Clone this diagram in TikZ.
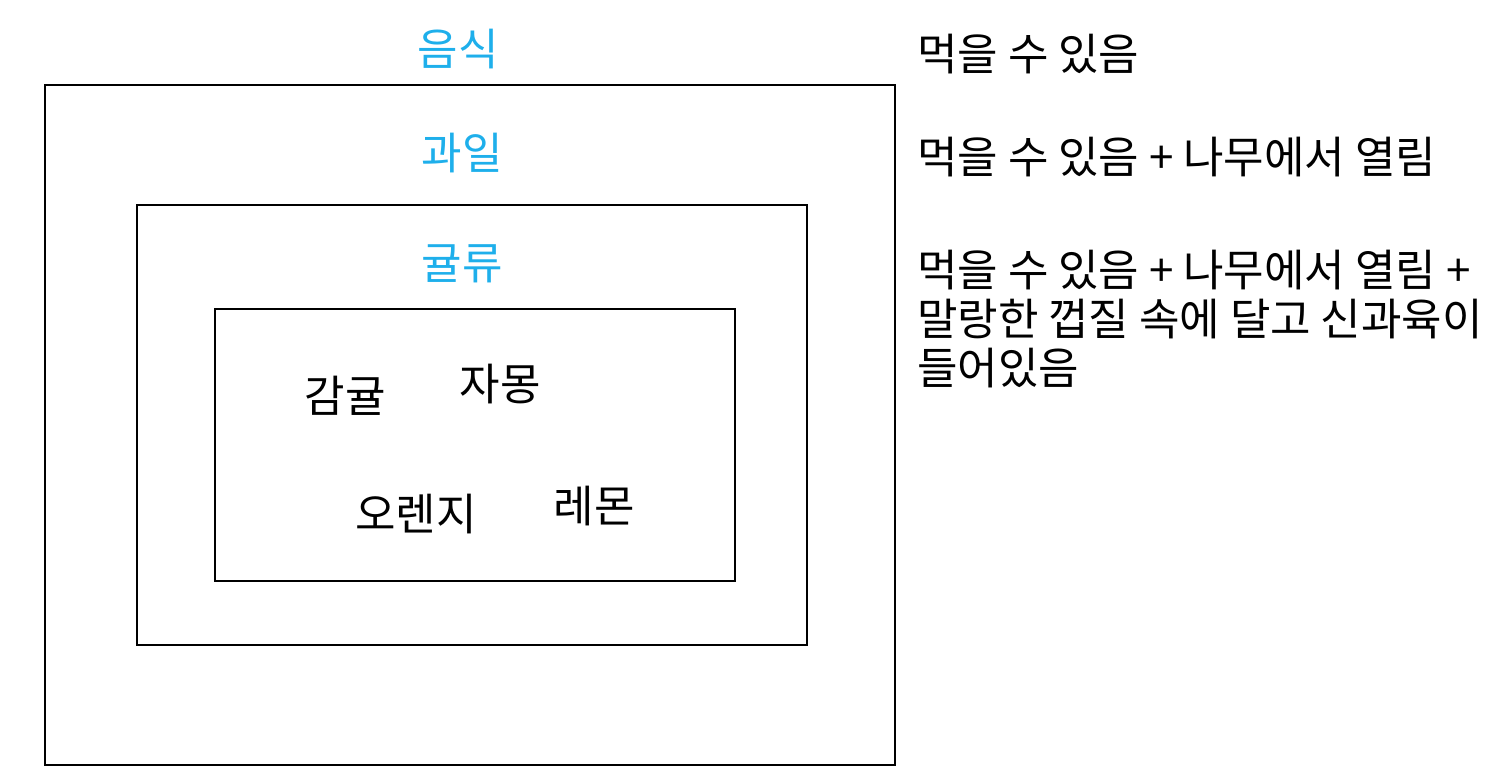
\documentclass[tikz,border=0pt]{standalone}
\usepackage{fontspec}
\setmainfont{Noto Sans CJK KR}
\definecolor{lblblue}{RGB}{30,175,235}
\begin{document}
\begin{tikzpicture}[x=1pt,y=-1pt,
  box/.style={draw=black,line width=1.6pt},
  setlabel/.style={text=lblblue,font=\fontsize{44}{48}\selectfont,inner sep=0pt},
  item/.style={text=black,font=\fontsize{44}{48}\selectfont,inner sep=0pt},
  desc/.style={text=black,font=\fontsize{44}{49}\selectfont,inner sep=0pt,anchor=base west,align=left}]
\useasboundingbox (0,0) rectangle (1506,780);
\draw[box] (45,85) rectangle (895,765);
\draw[box] (137,205) rectangle (807,645);
\draw[box] (215,309) rectangle (735,581);
\node[setlabel] (food) at (458,49) {음식};
\node[setlabel] (fruit) at (462,153) {과일};
\node[setlabel] (citrus) at (462,264) {귤류};
\node[item] (gam) at (345,396) {감귤};
\node[item] (ja) at (500,384) {자몽};
\node[item] (or) at (416,514) {오렌지};
\node[item] (le) at (594,506) {레몬};
\node[desc] (d1) at (917,70) {먹을 수 있음};
\node[desc] (d2) at (917,173) {먹을 수 있음 + 나무에서 열림};
\node[desc] (d3) at (917,384) {먹을 수 있음 + 나무에서 열림 +\\말랑한 껍질 속에 달고 신과육이\\들어있음};
\end{tikzpicture}
\end{document}
